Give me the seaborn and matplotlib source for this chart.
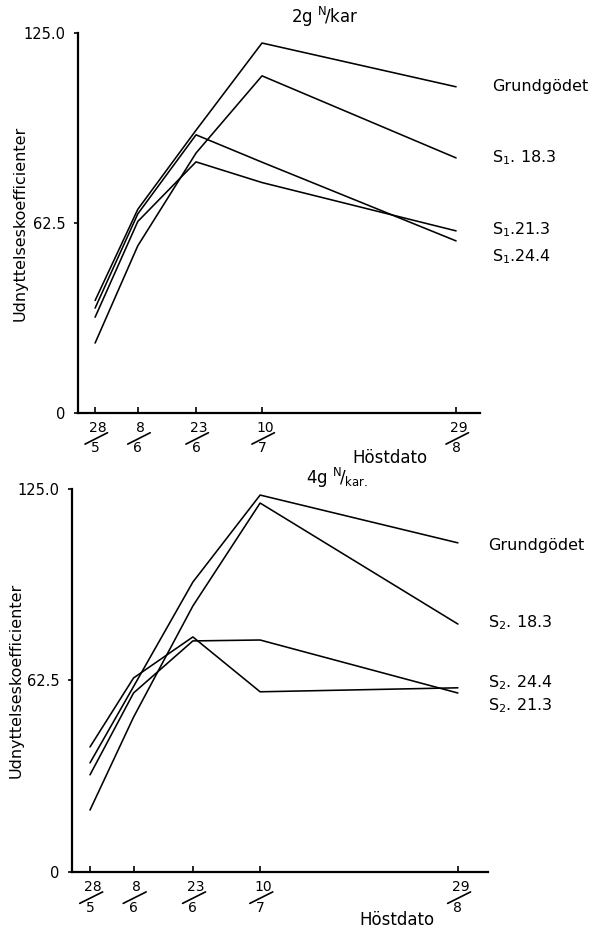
import numpy as np
import pandas as pd
import matplotlib
matplotlib.use("Agg")
import matplotlib.pyplot as plt
import matplotlib.transforms as mtransforms
from matplotlib.lines import Line2D
import seaborn as sns

# Harvest dates (day of year) and their fraction-style tick labels
harvest_days = [148, 159, 174, 191, 241]
tick_day = ["28", "8", "23", "10", "29"]
tick_month = ["5", "6", "6", "7", "8"]

# 2 g N per pot
series_2g = ["Grundgödet", "S1.18.3", "S1.21.3", "S1.24.4"]
grund_2g = [37.0, 67.0, 93.0, 121.7, 107.3]
s1_18_3 = [23.0, 55.0, 85.5, 110.9, 83.9]
s1_21_3 = [31.5, 63.0, 82.6, 75.8, 59.9]
s1_24_4 = [34.5, 65.5, 91.5, 82.5, 56.6]
labels_2g = ["Grundgödet", r"S$_1$. 18.3", r"S$_1$.21.3", r"S$_1$.24.4"]
label_y_2g = [107.3, 83.9, 60.2, 51.3]

# 4 g N per pot
series_4g = ["Grundgödet", "S2.18.3", "S2.24.4", "S2.21.3"]
grund_4g = [35.6, 60.5, 94.6, 123.0, 107.4]
s2_18_3 = [20.2, 50.5, 86.8, 120.4, 80.9]
s2_24_4 = [40.8, 63.3, 76.7, 58.8, 60.1]
s2_21_3 = [31.7, 58.4, 75.4, 75.7, 58.4]
labels_4g = ["Grundgödet", r"S$_2$. 18.3", r"S$_2$. 24.4", r"S$_2$. 21.3"]
label_y_4g = [106.7, 81.3, 61.7, 54.2]

y_ticks = [0, 62.5, 125]
y_ticklabels = ["0", "62.5", "125.0"]


def long_frame(names, values):
    rows = []
    for name, vals in zip(names, values):
        for d, v in zip(harvest_days, vals):
            rows.append({"day": d, "value": v, "series": name})
    return pd.DataFrame(rows)


sns.set_style("ticks")
plt.rcParams["font.family"] = ["DejaVu Sans"]
plt.rcParams["mathtext.fontset"] = "dejavusans"
for key in ("text.color", "axes.labelcolor", "xtick.color", "ytick.color",
            "axes.edgecolor"):
    plt.rcParams[key] = "black"

fig = plt.figure(figsize=(6.02, 9.32), dpi=100)
ax_top = fig.add_axes([0.1296, 0.5569, 0.668, 0.4077])
ax_bot = fig.add_axes([0.1196, 0.0644, 0.691, 0.411])


def draw_panel(ax, names, values, labels, label_y, xlim, label_x, ylab_x):
    df = long_frame(names, values)
    sns.lineplot(data=df, x="day", y="value", hue="series", hue_order=names,
                 palette=["black"] * len(names), linewidth=1.15,
                 legend=False, ax=ax, sort=False)
    ax.set_xlim(*xlim)
    ax.set_ylim(0, 125)
    sns.despine(ax=ax)
    for s in ("left", "bottom"):
        ax.spines[s].set_linewidth(1.6)
    ax.set_yticks(y_ticks)
    ax.set_yticklabels(y_ticklabels, fontsize=10.5)
    ax.tick_params(axis="y", direction="out", length=3, width=1.2, pad=6)
    ax.set_xticks(harvest_days)
    ax.set_xticklabels([])
    ax.tick_params(axis="x", direction="in", length=4, width=1.2)
    ax.set_xlabel("")
    ax.set_ylabel("Udnyttelseskoefficienter", fontsize=11.5)
    ax.yaxis.set_label_coords(ylab_x, 0.5)
    trans = mtransforms.blended_transform_factory(ax.transData, ax.transAxes)
    for d, num, den in zip(harvest_days, tick_day, tick_month):
        ax.text(d + 0.8, -0.022, num, transform=trans, ha="center", va="top",
                fontsize=10)
        ax.text(d, -0.075, den, transform=trans, ha="center", va="top",
                fontsize=10)
        ax.add_line(Line2D([d - 2.6, d + 3.2], [-0.082, -0.052],
                           transform=trans, color="black", linewidth=1.2,
                           clip_on=False))
    for lab, ly in zip(labels, label_y):
        ax.text(label_x, ly, lab, ha="left", va="center", fontsize=11.5,
                clip_on=False)


draw_panel(ax_top, series_2g, [grund_2g, s1_18_3, s1_21_3, s1_24_4],
           labels_2g, label_y_2g, (143.6, 247.2), 250.3, -0.125)
draw_panel(ax_bot, series_4g, [grund_4g, s2_18_3, s2_24_4, s2_21_3],
           labels_4g, label_y_4g, (143.45, 248.6), 248.6, -0.117)

fig.text(0.54, 0.982, r"2g $^{\mathsf{N}}\!/\mathsf{kar}$", ha="center",
         va="center", fontsize=12)
fig.text(0.56, 0.487, r"4g $^{\mathsf{N}}\!/_{\mathsf{kar.}}$", ha="center",
         va="center", fontsize=12)
fig.text(0.648, 0.509, "Höstdato", ha="center", va="center", fontsize=12)
fig.text(0.66, 0.013, "Höstdato", ha="center", va="center", fontsize=12)

fig.savefig("out.png", dpi=100, facecolor="white")
